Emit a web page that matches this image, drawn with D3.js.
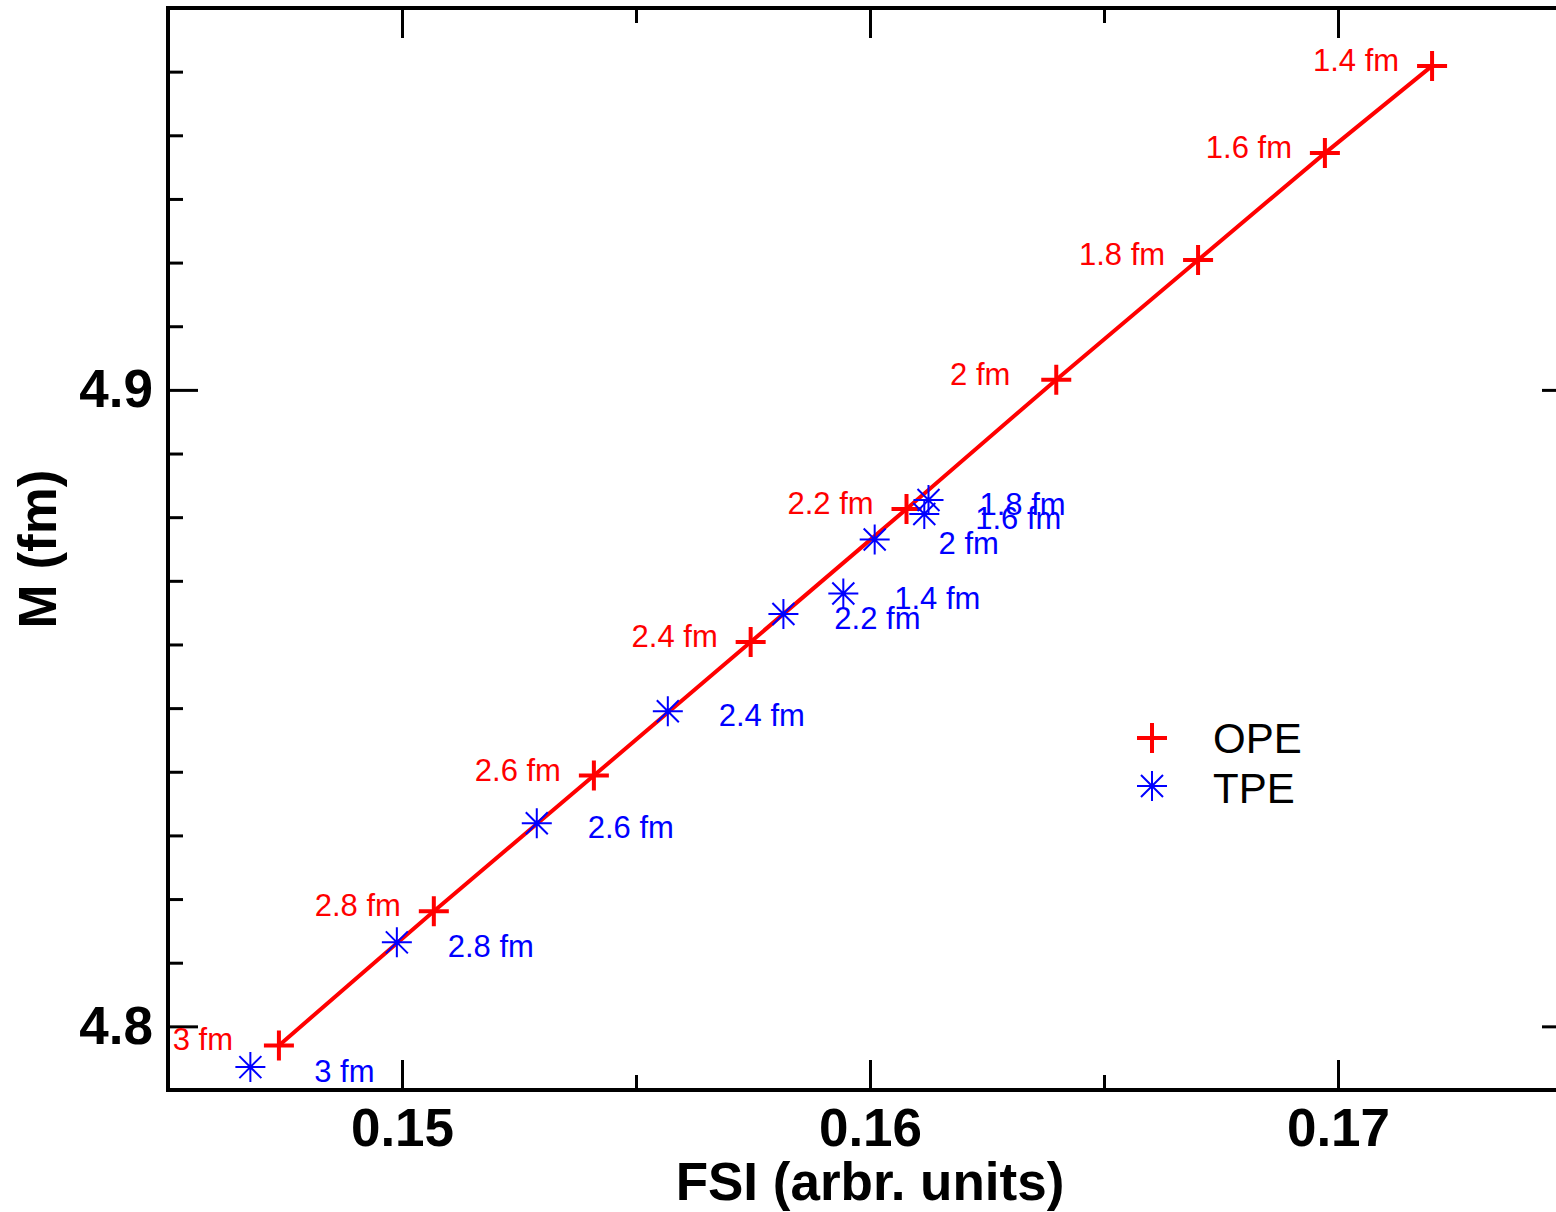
<!DOCTYPE html>
<html>
<head>
<meta charset="utf-8">
<script src="https://cdn.jsdelivr.net/npm/d3@7"></script>
<style>
  html, body { margin: 0; padding: 0; background: #fff; }
  svg { display: block; font-family: "Liberation Sans", Arial, Helvetica, sans-serif; }
  .tick text { font-weight: bold; font-size: 53px; fill: #000; }
  .tick line { stroke: #000; stroke-width: 3; }
  .axis-label { font-weight: bold; font-size: 53px; }
  .pt-label { font-size: 31px; }
  .legend-text { font-size: 42px; }
</style>
</head>
<body>
<div id="chart"></div>
<script>
// cutoff radius for each calculation (label text)
var radii = [1.4, 1.6, 1.8, 2.0, 2.2, 2.4, 2.6, 2.8, 3.0]

// one-pion exchange
var opeFsi = [0.17201, 0.16972, 0.16701, 0.16398, 0.16078, 0.15745, 0.15410, 0.15068, 0.14737]
var opeM   = [4.9509, 4.9372, 4.9204, 4.9016, 4.8813, 4.8604, 4.8394, 4.8181, 4.7970]

// two-pion exchange
var tpeFsi = [0.15943, 0.16116, 0.16125, 0.16010, 0.15815, 0.15568, 0.15288, 0.14989, 0.14676]
var tpeM   = [4.8680, 4.8805, 4.8827, 4.8765, 4.8648, 4.8495, 4.8319, 4.8132, 4.7936]

var xMajor = [0.15, 0.16, 0.17]
var xMinor = [0.155, 0.165]
var yMajor = [4.8, 4.9]

var legendNames = ["OPE", "TPE"]

var width = 1556, height = 1212
var margin = {left: 168, right: -16, top: 8, bottom: 122}
var xScale, yScale, svg

var PLUS = "M-15,0H15M0,-15V15"
var STAR = "M-15,0H15M0,-15V15M-11,-11L11,11M-11,11L11,-11"

var fmt = function(r) { return String(+r.toFixed(1)) + " fm" }

var ope = radii.map(function(r, i) { return {r: r, x: opeFsi[i], y: opeM[i]} })
var tpe = radii.map(function(r, i) { return {r: r, x: tpeFsi[i], y: tpeM[i]} })

xScale = d3.scaleLinear()
    .domain([0.145, 0.175])
    .range([margin.left, width - margin.right])

yScale = d3.scaleLinear()
    .domain([4.79, 4.96])
    .range([height - margin.bottom, margin.top])

svg = d3.select("#chart")
    .append("svg")
    .attr("width", width)
    .attr("height", height)

var x0 = xScale.range()[0], x1 = xScale.range()[1]
var y0 = yScale.range()[0], y1 = yScale.range()[1]

// ticks, all pointing into the frame
function ticksOn(axis, values, size, labels) {
    return axis.tickValues(values).tickSize(size).tickPadding(labels ? 18 : 0)
        .tickFormat(labels ? d3.format("") : "")
}
var yMinor = yScale.ticks(17).filter(function(v) { return yMajor.indexOf(+v.toFixed(2)) < 0 })

var gb = svg.append("g").attr("transform", "translate(0," + y0 + ")")
gb.call(ticksOn(d3.axisBottom(xScale), xMajor, -30, true))
gb.append("g").call(ticksOn(d3.axisBottom(xScale), xMinor, -15, false))

var gt = svg.append("g").attr("transform", "translate(0," + y1 + ")")
gt.call(ticksOn(d3.axisTop(xScale), xMajor, -30, false))
gt.append("g").call(ticksOn(d3.axisTop(xScale), xMinor, -15, false))

var gl = svg.append("g").attr("transform", "translate(" + x0 + ",0)")
gl.call(ticksOn(d3.axisLeft(yScale), yMajor, -30, true))
gl.append("g").call(ticksOn(d3.axisLeft(yScale), yMinor, -15, false))

var gr = svg.append("g").attr("transform", "translate(" + x1 + ",0)")
gr.call(ticksOn(d3.axisRight(yScale), yMajor, -30, false))
gr.append("g").call(ticksOn(d3.axisRight(yScale), yMinor, -15, false))

svg.selectAll(".domain").remove()
gb.selectAll(".tick text").attr("dy", "0.71em").attr("y", 18)
gl.selectAll(".tick text").attr("x", -15)

// frame
svg.append("rect")
    .attr("x", x0).attr("y", y1)
    .attr("width", x1 - x0).attr("height", y0 - y1)
    .attr("fill", "none").attr("stroke", "#000").attr("stroke-width", 4)

// axis titles
svg.append("text")
    .attr("class", "axis-label")
    .attr("x", xScale(0.16)).attr("y", 1200)
    .attr("text-anchor", "middle")
    .text("FSI (arbr. units)")
svg.append("text")
    .attr("class", "axis-label")
    .attr("transform", "translate(56," + ((y0 + y1) / 2) + ")rotate(-90)")
    .attr("text-anchor", "middle")
    .text("M (fm)")

// OPE line + markers
var line = d3.line().x(d => xScale(d.x)).y(d => yScale(d.y))
svg.append("path")
    .datum(ope)
    .attr("d", line)
    .attr("fill", "none").attr("stroke", "#ff0000").attr("stroke-width", 4)

svg.selectAll(".ope")
    .data(ope).enter()
    .append("path")
        .attr("class", "ope")
        .attr("transform", d => "translate(" + xScale(d.x) + "," + yScale(d.y) + ")")
        .attr("d", PLUS)
        .attr("stroke", "#ff0000").attr("stroke-width", 4)

svg.selectAll(".tpe")
    .data(tpe).enter()
    .append("path")
        .attr("class", "tpe")
        .attr("transform", d => "translate(" + xScale(d.x) + "," + yScale(d.y) + ")")
        .attr("d", STAR)
        .attr("stroke", "#0000ff").attr("stroke-width", 2)

// radius labels: red to the left, blue to the lower right
svg.selectAll(".ope-lab")
    .data(ope).enter()
    .append("text")
        .attr("class", "pt-label")
        .attr("x", d => xScale(d.x) - 76)
        .attr("y", d => yScale(d.y) + 5)
        .attr("text-anchor", "middle")
        .attr("fill", "#ff0000")
        .text(d => fmt(d.r))

svg.selectAll(".tpe-lab")
    .data(tpe).enter()
    .append("text")
        .attr("class", "pt-label")
        .attr("x", d => xScale(d.x) + 94)
        .attr("y", d => yScale(d.y) + 15)
        .attr("text-anchor", "middle")
        .attr("fill", "#0000ff")
        .text(d => fmt(d.r))

// legend
var leg = svg.append("g").attr("transform", "translate(1152,738)")
leg.append("path").attr("d", PLUS).attr("stroke", "#ff0000").attr("stroke-width", 4)
leg.append("path").attr("d", STAR).attr("transform", "translate(0,48)")
    .attr("stroke", "#0000ff").attr("stroke-width", 2)
leg.selectAll(".legend-text")
    .data(legendNames).enter()
    .append("text")
        .attr("class", "legend-text")
        .attr("x", 61)
        .attr("y", (d, i) => 15 + i * 50)
        .text(d => d)
</script>
</body>
</html>
